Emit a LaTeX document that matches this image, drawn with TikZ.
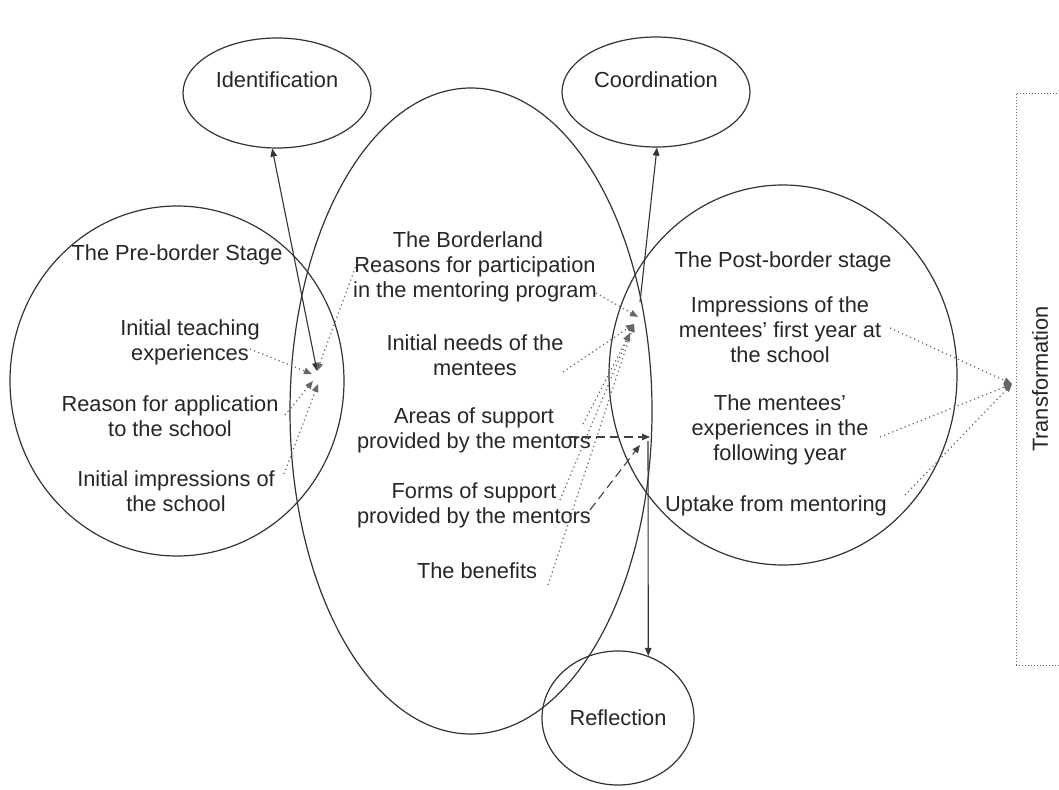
\documentclass[tikz,border=0pt]{standalone}
\usepackage{fontspec}
\setmainfont{Liberation Sans}
\usetikzlibrary{shapes.geometric,arrows.meta}

\begin{document}
\begin{tikzpicture}[x=1pt,y=-1pt,
  lbl/.style={font=\fontsize{21.8}{25}\selectfont, align=center, inner sep=0pt, text=black!85},
  oval/.style={draw=black!80, ellipse, line width=1.2pt, inner sep=0pt},
  tipend/.style={-{Triangle[length=8pt,width=6.5pt]}},
  tipboth/.style={{Triangle[length=8pt,width=6.5pt]}-{Triangle[length=8pt,width=6.5pt]}},
  solidlink/.style={draw=black!80, line width=1.1pt},
  dotlink/.style={draw=black!60, line width=1.2pt, dash pattern=on 1.2pt off 3.2pt},
  dashlink/.style={draw=black!75, line width=1.1pt, dash pattern=on 9pt off 5pt}
]
\useasboundingbox (0,0) rectangle (1059,789);

% stage ovals
\node[oval, minimum width=334pt, minimum height=350pt] (pre) at (177,381) {};
\node[oval, minimum width=362pt, minimum height=646pt] (border) at (471,411) {};
\node[oval, minimum width=348pt, minimum height=380pt] (post) at (783,375) {};

% outcome ovals and their names
\node[oval, minimum width=188pt, minimum height=110pt] (ident) at (277,93) {};
\node[lbl] (identtext) at (277,80) {Identification};
\node[oval, minimum width=188pt, minimum height=110pt] (coord) at (656,92) {};
\node[lbl] (coordtext) at (656,80) {Coordination};
\node[oval, minimum width=152pt, minimum height=134pt, lbl] (refl) at (618,718) {Reflection};

% transformation frame
\node[draw=black!60, line width=0.9pt, dash pattern=on 1pt off 2pt, inner sep=0pt,
      minimum width=60pt, minimum height=572pt] (trans) at (1046,379) {};
\node[lbl, rotate=90] (transtext) at (1040,379) {Transformation};

% pre-border stage
\node[lbl] (pretitle) at (177,255) {The Pre-border Stage};
\node[lbl] (teach) at (190,342) {Initial teaching\\experiences};
\node[lbl] (apply) at (170,416) {Reason for application\\to the school};
\node[lbl] (impr) at (176,491) {Initial impressions of\\the school};

% borderland
\node[lbl] (bordertitle) at (468,240) {The Borderland};
\node[lbl] (reasons) at (475,279) {Reasons for participation\\in the mentoring program};
\node[lbl] (needs) at (475,355) {Initial needs of the\\mentees};
\node[lbl] (areas) at (474,430) {Areas of support\\provided by the mentors};
\node[lbl] (forms) at (474,505) {Forms of support\\provided by the mentors};
\node[lbl] (benefits) at (477,571) {The benefits};

% post-border stage
\node[lbl] (posttitle) at (783,262) {The Post-border stage};
\node[lbl] (firstyear) at (780,330) {Impressions of the\\mentees’ first year at\\the school};
\node[lbl] (nextyear) at (780,430) {The mentees’\\experiences in the\\following year};
\node[lbl] (uptake) at (776,506) {Uptake from mentoring};

% meeting points of the links
\coordinate (p1) at (317,371);
\coordinate (p2) at (312,374);
\coordinate (p3) at (313,381);
\coordinate (p4) at (318,384);
\coordinate (b1) at (638,317);
\coordinate (b2) at (634,324);
\coordinate (b3) at (630,333);
\coordinate (c0) at (640,302);
\coordinate (d1) at (650,437);
\coordinate (d2) at (640,445);
\coordinate (r0) at (648,441);
\coordinate (t0) at (1012,384);

% link start points beside the texts
\coordinate (teachEnd) at (250,349);
\coordinate (applyEnd) at (285,415);
\coordinate (imprEnd) at (284,474);
\coordinate (reasonsStart) at (357,263);
\coordinate (reasonsEnd) at (596,293);
\coordinate (needsEnd) at (563,372);
\coordinate (areasEnd) at (583,424);
\coordinate (formsEnd) at (560,500);
\coordinate (benefitsEnd) at (548,585);
\coordinate (areasDash) at (568,437);
\coordinate (formsDash) at (590,510);
\coordinate (firstEnd) at (890,328);
\coordinate (nextEnd) at (880,437);
\coordinate (uptakeEnd) at (905,495);

% pre-border links
\draw[solidlink, tipboth] (p1) -- (ident.-95);
\draw[dotlink, tipend] (reasonsStart) -- (p1);
\draw[dotlink, tipend] (teachEnd) -- (p2);
\draw[dotlink, tipend] (applyEnd) -- (p3);
\draw[dotlink, tipend] (imprEnd) -- (p4);

% borderland links
\draw[solidlink, tipend] (c0) -- (coord.-89);
\draw[dotlink, tipend] (reasonsEnd) -- (b1);
\draw[dotlink, tipend] (needsEnd) -- (b2);
\draw[dotlink, tipend] (areasEnd) -- (b3);
\draw[dotlink, tipend] (formsEnd) -- (b3);
\draw[dotlink, tipend] (benefitsEnd) -- (b2);
\draw[dashlink, tipend] (areasDash) -- (d1);
\draw[dashlink, tipend] (formsDash) -- (d2);
\draw[solidlink, tipend] (r0) -- (refl.64);

% post-border links
\draw[dotlink, tipend] (firstEnd) -- (t0);
\draw[dotlink, tipend] (nextEnd) -- (t0);
\draw[dotlink, tipend] (uptakeEnd) -- (t0);
\end{tikzpicture}
\end{document}
